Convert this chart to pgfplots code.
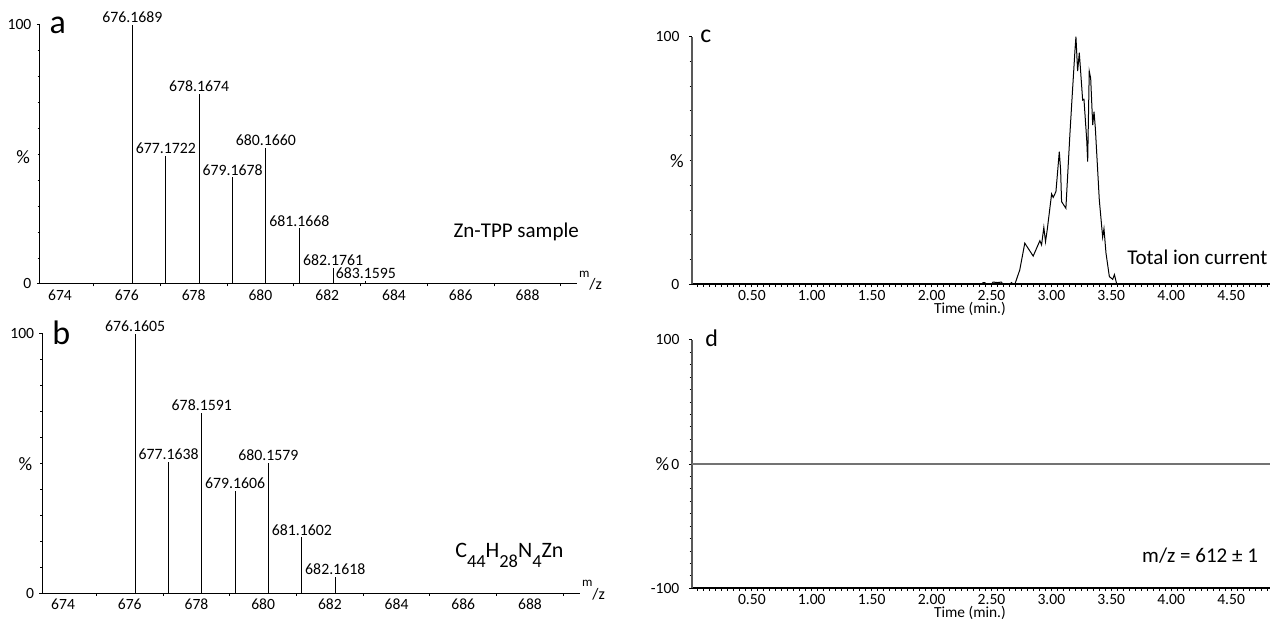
\documentclass[border=0pt]{standalone}
\usepackage{pgfplots}
\pgfplotsset{compat=1.18}
\usepackage{fontspec}
\setmainfont{Carlito}
\newcommand\fs[1]{\fontsize{#1}{#1}\selectfont}
\newcommand\sub[1]{\raisebox{-5pt}{\fs{9.2}#1}}
\pgfplotsset{
  base/.style={anchor=south west, scale only axis, axis x line*=bottom, axis y line*=left,
    tick align=outside, clip=false, axis line style={black, line width=0.5pt},
    /pgf/number format/assume math mode=true,
    tick style={black, line width=0.5pt},
    major tick length=1.6pt, minor tick length=1.2pt,
    tick label style={font=\fs{7.8}},
    yticklabel style={inner sep=0.5pt, xshift=-2pt},
    xticklabel style={inner sep=1pt},
    scaled ticks=false},
  ms/.style={base, major x tick style={draw=none},
    xtick={674,676,...,688}, minor xtick={675,677,...,689},
    ymin=0, ymax=100, ytick={0,100}, minor ytick={10,20,...,90},
    every node near coord/.append style={font=\fs{7.9}, inner sep=0.7pt, anchor=south}},
  lc/.style={base, xmin=0, xmax=4.825,
    xtick={0.5,1,...,4.5}, minor xtick={0.05,0.1,...,4.8},
    x axis line style={line width=1pt},
    y axis line style={color=black!65, line width=0.8pt},
    tick label style={font=\fs{7.8}},
    xticklabel style={/pgf/number format/fixed, /pgf/number format/fixed zerofill, /pgf/number format/precision=2},
    yticklabel style={xshift=-2pt}}
}
\begin{document}
\begin{tikzpicture}
% ---------------- panel a
\begin{axis}[ms, at={(20pt,167.5pt)}, width=268.5pt, height=129.5pt, xmin=673.4, xmax=689.48]
\addplot[ycomb, black, line width=0.5pt, mark=none, nodes near coords, point meta=explicit symbolic]
 coordinates {(676.1689,100)[676.1689] (677.1722,49.5)[677.1722] (678.1674,73.4)[678.1674]
 (679.1678,41.2)[679.1678] (680.1660,52.6)[680.1660] (681.1668,21.6)[681.1668]
 (682.1761,6.3)[682.1761] (683.1595,1.2)[683.1595]};
\node[anchor=base west, inner sep=0, font=\fs{17}] at (axis cs:673.68,96.9) {a};
\node[font=\fs{9.5}] at ([xshift=-8.4pt]rel axis cs:0,0.49) {\%};
\node[anchor=base west, inner sep=0, font=\fs{10.5}] at (axis cs:685.77,18.0) {Zn-TPP sample};
\node[anchor=base west, inner sep=0] at ([xshift=0.8pt]rel axis cs:1,0) {{\fs{6.5}\raisebox{3.2pt}{m}}{\fs{8}\raisebox{-3pt}{/z}}};
\end{axis}
% ---------------- panel b
\begin{axis}[ms, at={(21.35pt,12.85pt)}, width=268.65pt, height=129.65pt, xmin=673.39, xmax=689.5]
\addplot[ycomb, black, line width=0.5pt, mark=none, nodes near coords, point meta=explicit symbolic]
 coordinates {(676.1605,100)[676.1605] (677.1638,50.7)[677.1638] (678.1591,69.6)[678.1591]
 (679.1606,39.6)[679.1606] (680.1579,50.4)[680.1579] (681.1602,21.6)[681.1602]
 (682.1618,6.4)[682.1618]};
\node[anchor=base west, inner sep=0, font=\fs{17}] at (axis cs:673.67,96.1) {b};
\node[font=\fs{9.5}] at ([xshift=-8.6pt]rel axis cs:0,0.5) {\%};
\node[anchor=base west, inner sep=0, font=\fs{11}] at (axis cs:685.75,13.9)
 {C\sub{44}H\sub{28}N\sub{4}Zn};
\node[anchor=base west, inner sep=0] at ([xshift=0.8pt]rel axis cs:1,0) {{\fs{6.5}\raisebox{3.2pt}{m}}{\fs{8}\raisebox{-3pt}{/z}}};
\end{axis}
% ---------------- panel c
\begin{axis}[lc, at={(346pt,167.35pt)}, width=289pt, height=123.8pt,
  ymin=0, ymax=100, ytick={0,100}, minor ytick={10,20,...,90}]
\addplot[black, line width=0.5pt] coordinates {
 (0,0) (2.42,0) (2.43,0.7) (2.444,0.7) (2.455,0) (2.50,0) (2.513,0.9) (2.55,0.7) (2.583,0.9)
 (2.595,0) (2.655,0) (2.667,0.7) (2.68,0) (2.695,0) (2.736,5.8) (2.778,16.6) (2.848,11.4)
 (2.904,17.6) (2.918,15.9) (2.937,23.0) (2.951,17.2) (2.965,21.9) (3.002,36.5) (3.015,35.1)
 (3.038,37.4) (3.066,53.6) (3.077,46.2) (3.085,33.4) (3.121,30.7) (3.155,61.0) (3.174,76.4)
 (3.197,94.6) (3.205,100) (3.219,86.1) (3.233,93.5) (3.244,86.1) (3.261,74.4) (3.272,74.7)
 (3.295,58.3) (3.303,49.5) (3.316,86.1) (3.328,83.2) (3.345,64.3) (3.356,69.7) (3.367,63.0)
 (3.400,34.1) (3.428,19.0) (3.439,22.5) (3.456,12.5) (3.484,3.1) (3.512,2.0) (3.526,3.9)
 (3.546,0) (4.825,0)};
\node[anchor=base west, inner sep=0, font=\fs{12.9}] at (axis cs:0.067,97.5) {c};
\node[font=\fs{9.5}] at ([xshift=-7.5pt]rel axis cs:0,0.496) {\%};
\node[anchor=base west, inner sep=0, font=\fs{10.5}] at (axis cs:3.63,7.8) {Total ion current};
\node[font=\fs{7.7}, inner sep=0] at ([yshift=-12.2pt]axis cs:2.32,0) {Time (min.)};
\end{axis}
% ---------------- panel d
\begin{axis}[lc, at={(346pt,15.35pt)}, width=289pt, height=124.15pt,
  ymin=-100, ymax=100, ytick={-100,0,100}, minor ytick={-90,-80,...,90}]
\addplot[color=black!55, line width=1pt] coordinates {(0,0) (4.825,0)};
\node[anchor=base west, inner sep=0, font=\fs{12}] at (axis cs:0.109,95) {d};
\node[font=\fs{9.5}] at ([xshift=-14.8pt]rel axis cs:0,0.5) {\%};
\node[anchor=base west, inner sep=0, font=\fs{10.5}] at (axis cs:3.755,-79.5) {m/z = 612 ± 1};
\node[font=\fs{7.7}, inner sep=0] at ([yshift=-12.2pt]axis cs:2.32,-100) {Time (min.)};
\end{axis}
\pgfresetboundingbox
\path[use as bounding box] (0,0) rectangle (635pt,309.5pt);
\end{tikzpicture}
\end{document}
